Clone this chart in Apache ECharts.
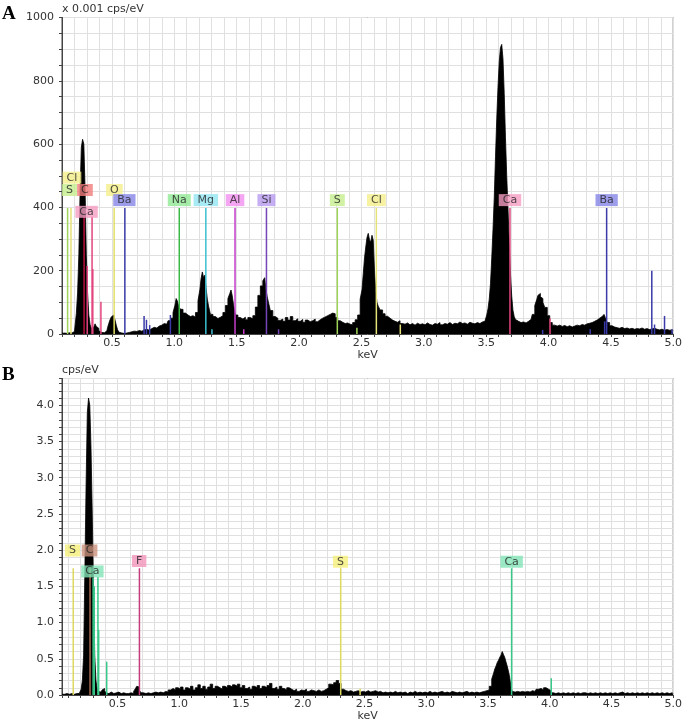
<!DOCTYPE html>
<html>
<head>
<meta charset="utf-8">
<script src="https://cdn.jsdelivr.net/npm/echarts@6/dist/echarts.min.js"></script>
<style>
  html, body { margin: 0; padding: 0; background: #fff; }
  #main { width: 685px; height: 727px; }
</style>
</head>
<body>
<div id="main"></div>
<script>
/* ---------------- spectrum A  (keV, x 0.001 cps/eV) ---------------- */
const specA = [
  [0.10,2],[0.12,3],[0.14,2],[0.16,4],[0.18,3],[0.20,8],[0.21,28],[0.22,65],[0.23,130],[0.24,250],
  [0.25,450],[0.26,590],[0.27,615],[0.28,600],[0.29,460],[0.30,250],[0.31,130],[0.32,60],[0.33,30],[0.34,18],
  [0.35,22],[0.36,28],[0.37,32],[0.38,24],[0.39,18],[0.40,10],[0.42,5],[0.44,4],[0.46,10],[0.47,20],
  [0.48,33],[0.49,45],[0.50,54],[0.51,60],[0.52,57],[0.53,44],[0.54,28],[0.55,14],[0.56,6],[0.58,3],
  [0.60,2],[0.62,3],[0.64,5],[0.66,7],[0.68,9],[0.70,8],[0.72,11],[0.74,9],[0.76,13],[0.78,15],
  [0.80,12],[0.82,17],[0.84,21],[0.86,19],[0.88,25],[0.90,28],[0.92,33],[0.94,31],[0.96,42],[0.98,50],
  [1.00,68],[1.01,90],[1.02,112],[1.03,104],[1.04,88],[1.06,78],[1.08,66],[1.10,60],[1.12,55],[1.14,58],
  [1.16,53],[1.18,68],[1.20,105],[1.21,140],[1.22,175],[1.23,196],[1.24,178],[1.25,186],[1.26,145],[1.27,110],
  [1.28,88],[1.30,62],[1.32,55],[1.34,49],[1.36,53],[1.38,58],[1.40,68],[1.42,90],[1.44,112],[1.45,128],
  [1.46,139],[1.47,120],[1.48,92],[1.50,60],[1.52,52],[1.54,47],[1.56,53],[1.58,45],[1.60,52],[1.62,48],
  [1.64,58],[1.66,85],[1.68,122],[1.70,152],[1.72,168],[1.73,178],[1.74,140],[1.75,118],[1.76,100],[1.78,74],
  [1.80,55],[1.82,50],[1.84,43],[1.86,47],[1.88,40],[1.90,52],[1.92,44],[1.94,55],[1.96,42],[1.98,48],
  [2.00,40],[2.02,46],[2.04,37],[2.06,44],[2.08,39],[2.10,42],[2.12,47],[2.14,39],[2.16,45],[2.18,50],
  [2.20,54],[2.22,58],[2.24,62],[2.26,66],[2.28,64],[2.30,52],[2.32,42],[2.34,37],[2.36,33],[2.38,35],
  [2.40,31],[2.42,29],[2.44,36],[2.46,45],[2.48,60],[2.50,110],[2.51,140],[2.52,190],[2.53,240],[2.54,275],
  [2.55,305],[2.56,318],[2.57,298],[2.58,290],[2.59,312],[2.60,296],[2.61,200],[2.62,135],[2.63,100],[2.64,88],
  [2.66,76],[2.68,64],[2.70,56],[2.72,50],[2.74,44],[2.76,40],[2.78,37],[2.80,42],[2.82,33],[2.84,31],
  [2.86,35],[2.88,29],[2.90,33],[2.92,28],[2.94,34],[2.96,30],[2.98,32],[3.00,29],[3.02,35],[3.04,30],
  [3.06,28],[3.08,33],[3.10,31],[3.12,36],[3.14,29],[3.16,33],[3.18,31],[3.20,36],[3.22,30],[3.24,34],
  [3.26,32],[3.28,38],[3.30,33],[3.32,35],[3.34,31],[3.36,37],[3.38,34],[3.40,32],[3.42,36],[3.44,33],
  [3.46,38],[3.48,40],[3.50,46],[3.51,60],[3.52,80],[3.53,110],[3.54,160],[3.55,240],[3.56,330],[3.57,430],
  [3.58,560],[3.59,680],[3.60,780],[3.61,860],[3.62,905],[3.63,915],[3.64,870],[3.65,760],[3.66,620],[3.67,500],
  [3.68,400],[3.69,290],[3.70,190],[3.71,120],[3.72,75],[3.73,55],[3.74,46],[3.76,40],[3.78,36],[3.80,38],
  [3.82,35],[3.84,40],[3.86,46],[3.88,62],[3.90,90],[3.91,108],[3.92,122],[3.93,128],[3.94,118],[3.95,112],
  [3.96,100],[3.98,84],[4.00,58],[4.02,36],[4.04,28],[4.06,25],[4.08,28],[4.10,24],[4.12,27],[4.14,23],
  [4.16,26],[4.18,22],[4.20,25],[4.22,28],[4.24,26],[4.26,30],[4.28,28],[4.30,32],[4.32,34],[4.34,36],
  [4.36,40],[4.38,44],[4.40,50],[4.42,55],[4.44,60],[4.45,62],[4.46,52],[4.48,36],[4.50,26],[4.52,22],
  [4.54,20],[4.56,18],[4.58,21],[4.60,17],[4.62,19],[4.64,16],[4.66,18],[4.68,15],[4.70,17],[4.72,16],
  [4.74,19],[4.76,15],[4.78,17],[4.80,14],[4.82,16],[4.84,18],[4.86,15],[4.88,13],[4.90,15],[4.92,12],
  [4.94,14],[4.96,12],[4.98,13],[5.00,11]
];

// element marker lines in A: [keV, height, element]
const markersA = [
  [0.145,398,'S'],[0.172,398,'Cl'],[0.277,371,'C'],[0.302,215,'Ca'],[0.341,371,'Ca'],[0.347,205,'Ca'],
  [0.412,102,'Ca'],[0.518,398,'O'],[0.604,398,'Ba'],[0.758,57,'Ba'],[0.777,45,'Ba'],[0.803,28,'Ba'],
  [0.969,60,'Ba'],[1.040,398,'Na'],[1.253,398,'Mg'],[1.302,15,'Mg'],[1.487,398,'Al'],[1.557,15,'Al'],
  [1.739,398,'Si'],[1.836,15,'Si'],[2.307,398,'S'],[2.464,20,'S'],[2.620,398,'Cl'],[2.812,30,'Cl'],
  [3.691,398,'Ca'],[3.953,13,'Ba'],[4.012,49,'Ca'],[4.334,15,'Ba'],[4.450,40,'Ba'],[4.466,398,'Ba'],
  [4.828,200,'Ba'],[4.850,30,'Ba'],[4.930,57,'Ba'],[4.990,15,'Ba']
];

// element tags in A: [element, keV, level]
const labelsA = [
  ['Cl',0.180,494],['S',0.160,455],['C',0.284,455],['O',0.520,455],['Ca',0.297,386],['Ba',0.600,423],
  ['Na',1.040,423],['Mg',1.253,423],['Al',1.487,423],['Si',1.739,423],['S',2.307,423],['Cl',2.620,423],
  ['Ca',3.691,423],['Ba',4.466,423]
];

/* ---------------- spectrum B  (keV, cps/eV) ---------------- */
const specB = [
  [0.05,0.01],[0.07,0.01],[0.09,0.02],[0.11,0.01],[0.13,0.02],[0.15,0.01],[0.17,0.02],[0.19,0.02],[0.20,0.04],[0.21,0.08],
  [0.22,0.2],[0.23,0.55],[0.24,1.7],[0.25,2.9],[0.26,3.9],[0.27,4.1],[0.28,4.0],[0.29,3.4],[0.30,2.5],[0.31,1.5],
  [0.32,0.55],[0.33,0.2],[0.34,0.08],[0.35,0.05],[0.36,0.04],[0.37,0.05],[0.38,0.07],[0.39,0.09],[0.40,0.06],[0.41,0.03],
  [0.42,0.02],[0.44,0.04],[0.46,0.02],[0.48,0.03],[0.50,0.04],[0.52,0.02],[0.54,0.03],[0.56,0.02],[0.58,0.02],[0.60,0.03],
  [0.62,0.02],[0.64,0.05],[0.65,0.09],[0.66,0.12],[0.67,0.11],[0.68,0.07],[0.70,0.03],[0.72,0.02],[0.74,0.03],[0.76,0.02],
  [0.78,0.03],[0.80,0.04],[0.82,0.03],[0.84,0.04],[0.86,0.03],[0.88,0.05],[0.90,0.04],[0.92,0.07],[0.94,0.09],[0.96,0.07],
  [0.98,0.1],[1.00,0.08],[1.02,0.11],[1.04,0.07],[1.06,0.1],[1.08,0.08],[1.10,0.12],[1.12,0.07],[1.14,0.1],[1.16,0.14],
  [1.18,0.09],[1.20,0.12],[1.22,0.08],[1.24,0.11],[1.26,0.15],[1.28,0.09],[1.30,0.12],[1.32,0.1],[1.34,0.08],[1.36,0.12],
  [1.38,0.1],[1.40,0.13],[1.42,0.11],[1.44,0.14],[1.46,0.12],[1.48,0.15],[1.50,0.1],[1.52,0.13],[1.54,0.09],[1.56,0.11],
  [1.58,0.08],[1.60,0.12],[1.62,0.1],[1.64,0.13],[1.66,0.09],[1.68,0.12],[1.70,0.1],[1.72,0.13],[1.74,0.16],[1.76,0.09],
  [1.78,0.11],[1.80,0.08],[1.82,0.12],[1.84,0.09],[1.86,0.07],[1.88,0.1],[1.90,0.08],[1.92,0.06],[1.94,0.08],[1.96,0.05],
  [1.98,0.07],[2.00,0.06],[2.02,0.08],[2.04,0.05],[2.06,0.07],[2.08,0.06],[2.10,0.05],[2.12,0.07],[2.14,0.05],[2.16,0.06],
  [2.18,0.08],[2.20,0.1],[2.22,0.15],[2.24,0.14],[2.26,0.17],[2.28,0.2],[2.30,0.16],[2.32,0.08],[2.34,0.06],[2.36,0.05],
  [2.38,0.06],[2.40,0.04],[2.42,0.05],[2.44,0.06],[2.46,0.04],[2.48,0.05],[2.50,0.04],[2.52,0.06],[2.54,0.04],[2.56,0.05],
  [2.58,0.06],[2.60,0.04],[2.62,0.05],[2.64,0.03],[2.66,0.04],[2.68,0.03],[2.70,0.04],[2.72,0.03],[2.74,0.05],[2.76,0.03],
  [2.78,0.04],[2.80,0.03],[2.82,0.04],[2.84,0.02],[2.86,0.04],[2.88,0.03],[2.90,0.05],[2.92,0.03],[2.94,0.04],[2.96,0.03],
  [2.98,0.04],[3.00,0.03],[3.02,0.05],[3.04,0.03],[3.06,0.04],[3.08,0.03],[3.10,0.04],[3.12,0.05],[3.14,0.03],[3.16,0.04],
  [3.18,0.03],[3.20,0.05],[3.22,0.04],[3.24,0.03],[3.26,0.04],[3.28,0.03],[3.30,0.04],[3.32,0.05],[3.34,0.03],[3.36,0.04],
  [3.38,0.03],[3.40,0.04],[3.42,0.03],[3.44,0.04],[3.46,0.05],[3.48,0.06],[3.50,0.07],[3.52,0.12],[3.54,0.22],[3.55,0.3],
  [3.56,0.36],[3.57,0.4],[3.58,0.45],[3.59,0.48],[3.60,0.52],[3.61,0.55],[3.62,0.6],[3.63,0.56],[3.64,0.52],[3.65,0.46],
  [3.66,0.4],[3.67,0.33],[3.68,0.25],[3.69,0.12],[3.70,0.05],[3.72,0.04],[3.74,0.05],[3.76,0.04],[3.78,0.05],[3.80,0.04],
  [3.82,0.05],[3.84,0.04],[3.86,0.06],[3.88,0.05],[3.90,0.08],[3.92,0.09],[3.94,0.07],[3.96,0.1],[3.98,0.08],[4.00,0.06],
  [4.02,0.03],[4.04,0.02],[4.06,0.03],[4.08,0.02],[4.10,0.03],[4.12,0.02],[4.14,0.03],[4.16,0.02],[4.18,0.03],[4.20,0.02],
  [4.22,0.03],[4.24,0.02],[4.26,0.03],[4.28,0.03],[4.30,0.02],[4.32,0.03],[4.34,0.02],[4.36,0.03],[4.38,0.02],[4.40,0.03],
  [4.42,0.02],[4.44,0.03],[4.46,0.02],[4.48,0.03],[4.50,0.02],[4.52,0.03],[4.54,0.02],[4.56,0.03],[4.58,0.04],[4.60,0.02],
  [4.62,0.03],[4.64,0.02],[4.66,0.03],[4.68,0.02],[4.70,0.03],[4.72,0.02],[4.74,0.03],[4.76,0.02],[4.78,0.03],[4.80,0.02],
  [4.82,0.03],[4.84,0.02],[4.86,0.03],[4.88,0.02],[4.90,0.03],[4.92,0.02],[4.94,0.03],[4.96,0.02],[4.98,0.03],[5.00,0.02]
];

const markersB = [
  [0.141,1.75,'S'],[0.277,1.75,'C'],[0.302,1.62,'Ca'],[0.311,1.5,'Ca'],[0.341,1.63,'Ca'],[0.347,0.9,'Ca'],
  [0.412,0.46,'Ca'],[0.677,1.75,'F'],[2.307,1.75,'S'],[2.464,0.09,'S'],[3.691,1.75,'Ca'],[4.012,0.23,'Ca']
];

const labelsB = [
  ['S',0.135,1.995],['C',0.273,1.995],['Ca',0.296,1.706],['F',0.675,1.85],['S',2.305,1.84],['Ca',3.691,1.84]
];

/* ---------------- colours ---------------- */
const paletteA = {
  S:  { line: '#9fd45a', box: '#c6ef8e' },
  Cl: { line: '#e6e27a', box: '#f4ef8a' },
  C:  { line: '#b8103c', box: '#f27c7c' },
  Ca: { line: '#e2457f', box: '#f59cc2' },
  O:  { line: '#e2e064', box: '#f4ef8a' },
  Ba: { line: '#3a3aa8', box: '#8585e6' },
  Na: { line: '#3cba48', box: '#90e894' },
  Mg: { line: '#3cbfd0', box: '#92e6f2' },
  Al: { line: '#c43cc8', box: '#f290f0' },
  Si: { line: '#7444b8', box: '#b89af0' }
};
const paletteB = {
  S:  { line: '#dcd860', box: '#f5f07a' },
  C:  { line: '#a86850', box: '#c9917c' },
  Ca: { line: '#38c98a', box: '#82e3b6' },
  F:  { line: '#c43c7c', box: '#f295ba' }
};

const FONT = 'DejaVu Sans';
const onHalf = v => Math.abs(v * 2 - Math.round(v * 2)) < 1e-6;

function renderMarker(params, api) {
  const e = api.value(0), h = api.value(1);
  const a = api.coord([e, 0]), b = api.coord([e, h]);
  return {
    type: 'line',
    shape: { x1: a[0], y1: a[1], x2: b[0], y2: b[1] },
    style: { stroke: api.visual('color'), lineWidth: 1.5 }
  };
}

function panelSeries(idx, spec, markers, labels, palette) {
  return [
    {
      type: 'line', xAxisIndex: idx, yAxisIndex: idx, data: spec,
      symbol: 'none', silent: true, z: 2, step: 'middle',
      lineStyle: { color: '#000', width: 0.8 },
      areaStyle: { color: '#000', opacity: 1 }
    },
    {
      type: 'custom', xAxisIndex: idx, yAxisIndex: idx, silent: true, z: 3,
      renderItem: renderMarker,
      data: markers.map(m => ({ value: [m[0], m[1]], itemStyle: { color: palette[m[2]].line } }))
    },
    {
      type: 'scatter', xAxisIndex: idx, yAxisIndex: idx, silent: true, z: 4,
      symbolSize: 1, itemStyle: { color: 'rgba(0,0,0,0)' },
      label: {
        show: true, position: 'inside', formatter: '{b}',
        color: '#222', fontFamily: FONT, fontSize: 11,
        padding: [1, 4, 0, 4], lineHeight: 11
      },
      data: labels.map(l => ({ name: l[0], value: [l[1], l[2]], label: { backgroundColor: palette[l[0]].box } }))
    }
  ];
}

const axisText = { color: '#333', fontFamily: FONT, fontSize: 11 };
const gridLine = { show: true, lineStyle: { color: '#e0e0e0', width: 1 } };
const axisLine = { show: true, lineStyle: { color: '#444' } };
const tick = { show: true, length: 3, lineStyle: { color: '#444' } };

const chart = echarts.init(document.getElementById('main'));
chart.setOption({
  animation: false,
  backgroundColor: '#fff',
  graphic: [
    { type: 'text', left: 2, top: 5, style: { text: 'A', font: 'bold 19px "Liberation Serif"', fill: '#000' } },
    { type: 'text', left: 2, top: 366, style: { text: 'B', font: 'bold 19px "Liberation Serif"', fill: '#000' } }
  ],
  grid: [
    { left: 62, top: 17.5, width: 613, height: 316.5, show: true, borderColor: '#444', borderWidth: 1 },
    { left: 62, top: 378.5, width: 613, height: 316.5, show: true, borderColor: '#444', borderWidth: 1 }
  ],
  xAxis: [
    {
      gridIndex: 0, type: 'value', min: 0.1, max: 5.0, interval: 0.1,
      name: 'keV', nameLocation: 'middle', nameGap: 15, nameTextStyle: axisText,
      axisLine, axisTick: tick, splitLine: gridLine,
      axisLabel: Object.assign({ margin: 4, formatter: v => onHalf(v) ? v.toFixed(1) : '' }, axisText)
    },
    {
      gridIndex: 1, type: 'value', min: 0.05, max: 5.0, splitNumber: 50, minInterval: 0.1, maxInterval: 0.1,
      name: 'keV', nameLocation: 'middle', nameGap: 15, nameTextStyle: axisText,
      axisLine, axisTick: tick, splitLine: gridLine,
      axisLabel: Object.assign({ margin: 4, formatter: v => onHalf(v) && v > 0.1 ? v.toFixed(1) : '' }, axisText)
    }
  ],
  yAxis: [
    {
      gridIndex: 0, type: 'value', min: 0, max: 1000, interval: 50,
      name: 'x 0.001 cps/eV', nameLocation: 'end', nameGap: 3,
      nameTextStyle: Object.assign({ align: 'left' }, axisText),
      axisLine, axisTick: tick, splitLine: gridLine,
      axisLabel: Object.assign({ margin: 8, formatter: v => v % 200 === 0 ? String(v) : '' }, axisText)
    },
    {
      gridIndex: 1, type: 'value', min: 0, max: 4.37, interval: 0.1,
      name: 'cps/eV', nameLocation: 'end', nameGap: 3,
      nameTextStyle: Object.assign({ align: 'left' }, axisText),
      axisLine, axisTick: tick, splitLine: gridLine,
      axisLabel: Object.assign({ margin: 8, formatter: v => onHalf(v) && v < 4.3 ? v.toFixed(1) : '' }, axisText)
    }
  ],
  series: [
    ...panelSeries(0, specA, markersA, labelsA, paletteA),
    ...panelSeries(1, specB, markersB, labelsB, paletteB)
  ]
});
</script>
</body>
</html>
